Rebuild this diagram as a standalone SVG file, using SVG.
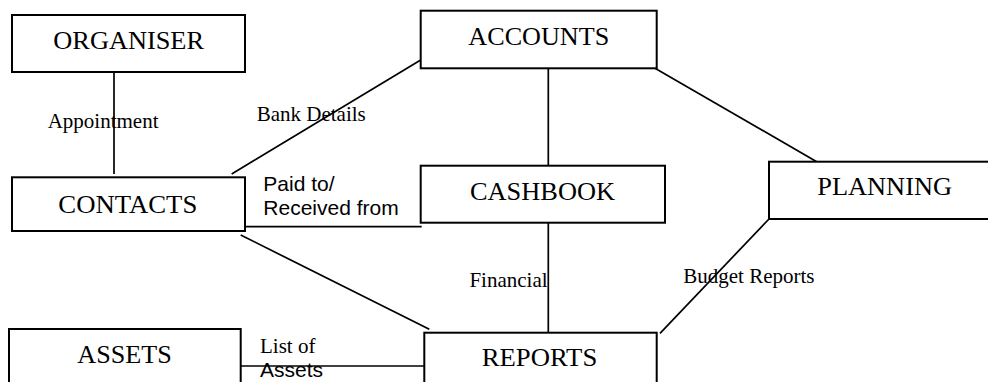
<svg xmlns="http://www.w3.org/2000/svg" width="988" height="382" viewBox="0 0 988 382">
<style>
.box{fill:#fff;stroke:#000;stroke-width:2}
.node{font-family:"Liberation Serif","Times New Roman",serif;font-size:26px;fill:#000}
.lbl{font-family:"Liberation Serif","Times New Roman",serif;font-size:21px;fill:#000}
.lbls{font-family:"Liberation Sans",Arial,sans-serif;font-size:21px;fill:#000}
.conn line{stroke:#000;stroke-width:1.7}
</style>
<rect width="988" height="382" fill="#fff"/>
<g id="connectors" class="conn">
<line x1="114" y1="72" x2="114" y2="174"/>
<line x1="231.7" y1="174" x2="420.7" y2="60"/>
<line x1="548.3" y1="68.3" x2="548.3" y2="165.7"/>
<line x1="655" y1="68.3" x2="816.7" y2="161.7"/>
<line x1="245" y1="226.7" x2="421.7" y2="226.7"/>
<line x1="548.3" y1="222.7" x2="548.3" y2="332.7"/>
<line x1="240.7" y1="235" x2="429.3" y2="329.3"/>
<line x1="769" y1="219" x2="660" y2="333.3"/>
<line x1="240.7" y1="366" x2="424.3" y2="366"/>
</g>
<g id="labels">
<text class="lbl" x="47.7" y="128.3">Appointment</text>
<text class="lbl" x="256.7" y="120.7">Bank Details</text>
<text class="lbls" x="263.3" y="190.7">Paid to/</text>
<text class="lbls" x="263.3" y="215">Received from</text>
<text class="lbl" x="469.4" y="287">Financial</text>
<text class="lbl" x="683.3" y="283.3">Budget Reports</text>
<text class="lbl" x="260" y="353.3">List of</text>
<text class="lbls" x="260" y="377.3">Assets</text>
</g>
<g id="organiser">
<rect class="box" x="12" y="15" width="233" height="57"/>
<text class="node" x="53.3" y="49.3" textLength="150.7" lengthAdjust="spacingAndGlyphs">ORGANISER</text>
</g>
<g id="accounts">
<rect class="box" x="420.7" y="10.7" width="236" height="57.6"/>
<text class="node" x="468.3" y="45" textLength="141" lengthAdjust="spacingAndGlyphs">ACCOUNTS</text>
</g>
<g id="contacts">
<rect class="box" x="12" y="177.3" width="233" height="53.7"/>
<text class="node" x="58.3" y="212.7" textLength="139" lengthAdjust="spacingAndGlyphs">CONTACTS</text>
</g>
<g id="cashbook">
<rect class="box" x="420.7" y="165.7" width="244.3" height="57"/>
<text class="node" x="470" y="200" textLength="145" lengthAdjust="spacingAndGlyphs">CASHBOOK</text>
</g>
<g id="planning">
<rect class="box" x="769" y="161.7" width="230" height="57.3"/>
<text class="node" x="817.3" y="195" textLength="134.7" lengthAdjust="spacingAndGlyphs">PLANNING</text>
</g>
<g id="assets">
<rect class="box" x="9" y="329" width="231.7" height="70"/>
<text class="node" x="77.3" y="363.3" textLength="94.4" lengthAdjust="spacingAndGlyphs">ASSETS</text>
</g>
<g id="reports">
<rect class="box" x="424.3" y="332.7" width="232.4" height="70"/>
<text class="node" x="481.7" y="366" textLength="115.6" lengthAdjust="spacingAndGlyphs">REPORTS</text>
</g>
</svg>
